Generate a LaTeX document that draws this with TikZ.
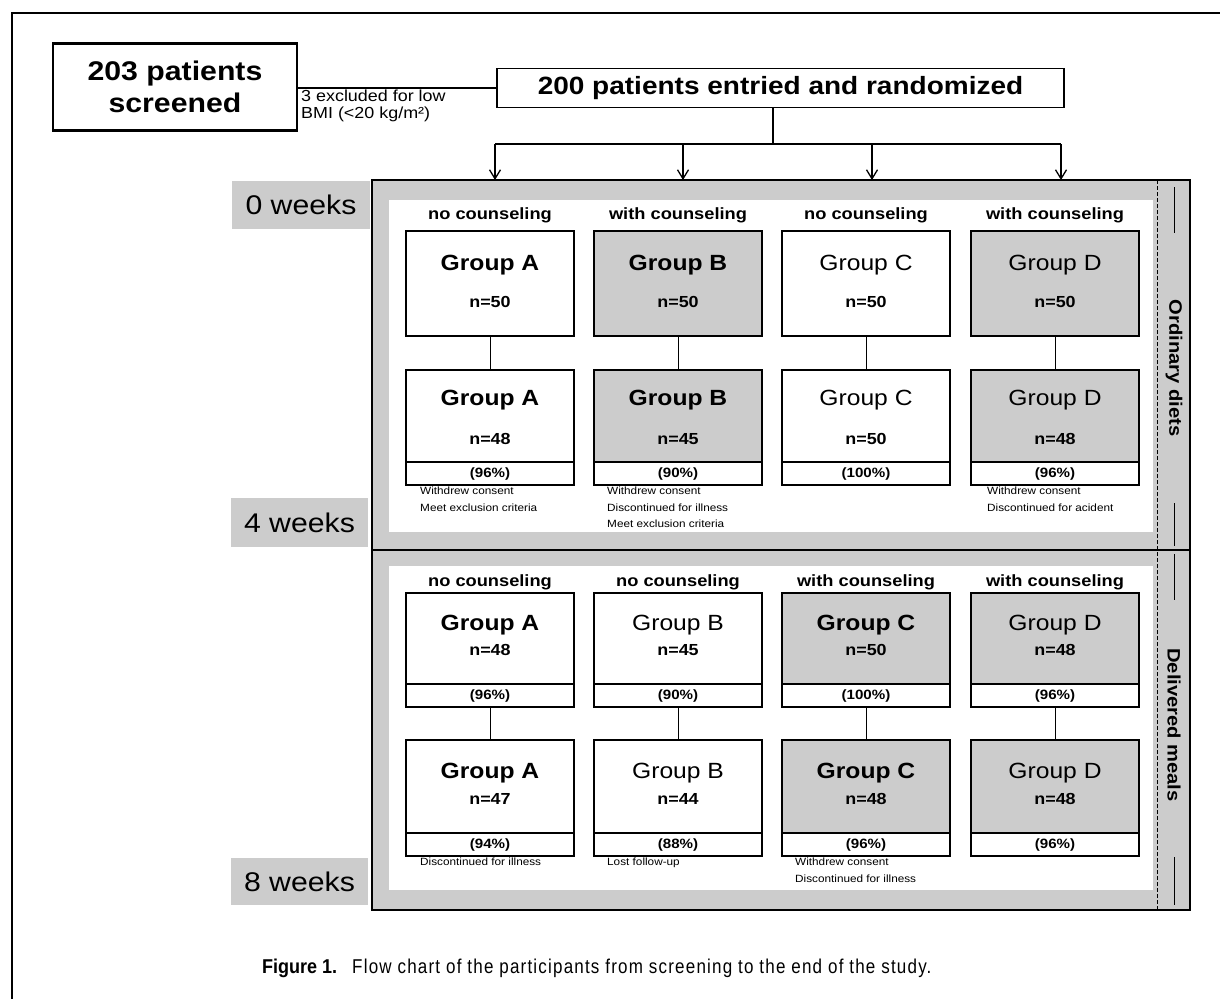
\documentclass[tikz,border=0pt]{standalone}
\usepackage{fontspec}
\setmainfont[FakeStretch=1.12]{Liberation Sans}
\newfontfamily\capfont[FakeStretch=0.85,LetterSpace=6]{Liberation Sans}
\newfontfamily\capbf[FakeStretch=0.9]{Liberation Sans}
\usetikzlibrary{arrows.meta}
\definecolor{scan}{gray}{0.8}
\newcommand{\fs}[2]{\fontsize{#1}{#2}\selectfont}
\begin{document}
\begin{tikzpicture}[x=1pt,y=-1pt,
  gbox/.style={draw, line width=1.4pt, minimum width=168pt, inner sep=0pt, outer sep=0pt},
  collab/.style={inner sep=0pt, font=\fs{16.3}{18}\bfseries},
  ttlbf/.style={inner sep=0pt, font=\fs{22}{24}\bfseries},
  ttlmd/.style={inner sep=0pt, font=\fs{22}{24}},
  nval/.style={inner sep=0pt, font=\fs{16}{18}\bfseries},
  pctstyle/.style={inner sep=0pt, font=\fs{13.5}{15}\bfseries},
  note/.style={anchor=north west, inner sep=0pt, align=left, font=\fs{10.5}{16.5}},
  wk/.style={fill=scan, inner sep=0pt, font=\fs{27}{27}},
  side/.style={rotate=-90, inner sep=0pt, font=\fs{18}{18}\bfseries},
  conn/.style={line width=1pt},
  arr/.style={line width=1.3pt, -{Straight Barb[length=9pt,width=11pt]}}
]
\useasboundingbox (0,0) rectangle (1220,998);
% page frame
\draw[line width=1.3pt] (12,1002) -- (12,13) -- (1224,13);

% top boxes
\node[draw, line width=2.2pt, minimum width=244pt, minimum height=87pt, inner sep=0pt,
      align=center, font=\fs{27}{32}\bfseries] (scr) at (175,87) {203 patients\\screened};
\node[draw, line width=1.6pt, minimum width=567pt, minimum height=39pt, inner sep=0pt,
      font=\fs{25}{30}\bfseries] (rand) at (780.5,88) {200 patients entried and randomized};
\coordinate (exl) at (297,88);
\draw[line width=1.3pt] (exl) -- (rand.west);
\node[anchor=north west, align=left, inner sep=0pt, font=\fs{16}{17}] (excl) at (301,90)
  {3 excluded for low\\BMI (<20 kg/m²)};

\coordinate (split) at (773,144);
\draw[line width=1.3pt] (rand.south -| split) -- (split);
\coordinate (hl) at (495,144);
\coordinate (hr) at (1061,144);
\draw[line width=1.3pt] (hl) -- (hr);
\foreach \x [count=\i] in {495,683,872,1061}{
  \coordinate (t\i) at (\x,144);
  \coordinate (b\i) at (\x,180);
  \draw[arr] (t\i) -- (b\i);
}

% main frame
\node[draw, fill=scan, line width=1.5pt, minimum width=818pt, minimum height=730pt, inner sep=0pt] (frame) at (781,545) {};
\fill[white] (389,200) rectangle (1153,532);
\fill[white] (389,566) rectangle (1153,890);
\coordinate (dl) at (372,550);
\coordinate (dr) at (1190,550);
\draw[line width=1.5pt] (dl) -- (dr);
\draw[line width=0.8pt, dash pattern=on 4pt off 2pt] (1157,180) -- (1157,910);
\draw[line width=0.8pt] (1174,187) -- (1174,233);
\draw[line width=0.8pt] (1174,503) -- (1174,546);
\draw[line width=0.8pt] (1174,554) -- (1174,600);
\draw[line width=0.8pt] (1174,857) -- (1174,905);
\node[side] (ord) at (1174,368) {Ordinary diets};
\node[side] (del) at (1174,725) {Delivered meals};

% week labels
\node[wk, minimum width=138pt, minimum height=48pt] (w0) at (301,205) {0 weeks};
\node[wk, minimum width=137pt, minimum height=49pt] (w4) at (299.5,522.5) {4 weeks};
\node[wk, minimum width=137pt, minimum height=47pt] (w8) at (299.5,881.5) {8 weeks};

% section 1: ordinary diets
\foreach \c/\x/\f/\s/\ttl/\nn/\mm/\pp/\lb in {
  A/490/white/bf/Group A/50/48/96/no counseling,
  B/678/scan/bf/Group B/50/45/90/with counseling,
  C/866/white/md/Group C/50/50/100/no counseling,
  D/1055/scan/md/Group D/50/48/96/with counseling}{
  \node[collab] (s1\c) at (\x,215) {\lb};
  \node[gbox, fill=\f, minimum height=105pt] (r1\c) at (\x,283.5) {};
  \node[ttl\s] (r1t\c) at (\x,265) {\ttl};
  \node[nval] (r1n\c) at (\x,302) {n=\nn};
  \node[gbox, fill=\f, minimum height=92pt] (r2\c) at (\x,416) {};
  \node[ttl\s] (r2t\c) at (\x,400) {\ttl};
  \node[nval] (r2n\c) at (\x,439) {n=\mm};
  \node[gbox, fill=white, minimum height=23pt] (r2p\c) at (\x,473.5) {};
  \node[pctstyle] (r2q\c) at (\x,474) {(\pp\%)};
  \draw[conn] (r1\c) -- (r2\c);
}
\node[note] (n2A) at (420,487) {Withdrew consent\\Meet exclusion criteria};
\node[note] (n2B) at (607,487) {Withdrew consent\\Discontinued for illness\\Meet exclusion criteria};
\node[note] (n2D) at (987,487) {Withdrew consent\\Discontinued for acident};

% section 2: delivered meals
\foreach \c/\x/\f/\s/\ttl/\nn/\mm/\pp/\qq/\lb in {
  A/490/white/bf/Group A/48/47/96/94/no counseling,
  B/678/white/md/Group B/45/44/90/88/no counseling,
  C/866/scan/bf/Group C/50/48/100/96/with counseling,
  D/1055/scan/md/Group D/48/48/96/96/with counseling}{
  \node[collab] (s2\c) at (\x,582) {\lb};
  \node[gbox, fill=\f, minimum height=91pt] (r3\c) at (\x,638.5) {};
  \node[ttl\s] (r3t\c) at (\x,625) {\ttl};
  \node[nval] (r3n\c) at (\x,650) {n=\nn};
  \node[gbox, fill=white, minimum height=23pt] (r3p\c) at (\x,695.5) {};
  \node[pctstyle] (r3q\c) at (\x,696) {(\pp\%)};
  \node[gbox, fill=\f, minimum height=93pt] (r4\c) at (\x,786.5) {};
  \node[ttl\s] (r4t\c) at (\x,773) {\ttl};
  \node[nval] (r4n\c) at (\x,799) {n=\mm};
  \node[gbox, fill=white, minimum height=23pt] (r4p\c) at (\x,844.5) {};
  \node[pctstyle] (r4q\c) at (\x,845) {(\qq\%)};
  \draw[conn] (r3p\c) -- (r4\c);
}
\node[note] (n4A) at (420,858) {Discontinued for illness};
\node[note] (n4B) at (607,858) {Lost follow-up};
\node[note] (n4C) at (795,858) {Withdrew consent\\Discontinued for illness};

% caption
\node[anchor=west, inner sep=0pt, font=\capbf\fs{20}{20}\bfseries] (figl) at (262,968) {Figure 1.};
\node[anchor=west, inner sep=0pt, font=\capfont\fs{20}{20}] (figc) at (352,968)
  {Flow chart of the participants from screening to the end of the study.};
\end{tikzpicture}
\end{document}
